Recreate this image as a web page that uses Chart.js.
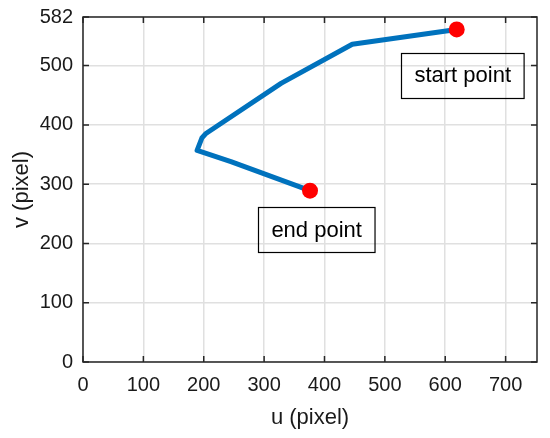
<!DOCTYPE html>
<html>
<head>
<meta charset="utf-8">
<script src="https://cdn.jsdelivr.net/npm/chart.js@4/dist/chart.umd.min.js"></script>
<style>
  html, body { margin: 0; padding: 0; background: #ffffff; }
  #wrap { width: 550px; height: 438px; position: relative; }
</style>
</head>
<body>
<div id="wrap"><canvas id="c" width="550" height="438"></canvas></div>
<script>
// ---- data ----
const uPath = [619, 446, 328, 203, 197, 189, 245, 376];
const vPath = [561, 536, 470, 385, 378, 357, 338, 289];
const startPoint = { u: 619, v: 561 };
const endPoint = { u: 376, v: 289 };
const xTicks = [0, 100, 200, 300, 400, 500, 600, 700];
const yTicks = [0, 100, 200, 300, 400, 500, 582];
const xMax = 752;
const yMax = 582;
const xLabel = 'u (pixel)';
const yLabel = 'v (pixel)';
const annotationLabels = ['start point', 'end point'];
const annotationAnchors = [{ u: 629, v: 484 }, { u: 387, v: 223 }];

const FONT = "'Liberation Sans', Arial, Helvetica, sans-serif";
const AXIS_COLOR = '#262626';

const pathData = uPath.map((u, i) => ({ x: u, y: vPath[i] }));

const frameTicksAnnot = {
  id: 'frameTicksAnnot',
  afterDatasetsDraw(chart) {
    const { ctx, chartArea: a, scales } = chart;
    const xs = scales.x, ys = scales.y;
    ctx.save();
    // inward ticks
    ctx.strokeStyle = AXIS_COLOR;
    ctx.lineWidth = 1.5;
    const tl = 6;
    ctx.beginPath();
    xTicks.forEach(t => {
      const px = xs.getPixelForValue(t);
      ctx.moveTo(px, a.bottom); ctx.lineTo(px, a.bottom - tl);
      ctx.moveTo(px, a.top); ctx.lineTo(px, a.top + tl);
    });
    yTicks.forEach(t => {
      const py = ys.getPixelForValue(t);
      ctx.moveTo(a.left, py); ctx.lineTo(a.left + tl, py);
      ctx.moveTo(a.right, py); ctx.lineTo(a.right - tl, py);
    });
    ctx.stroke();
    // frame
    ctx.strokeRect(a.left, a.top, a.right - a.left, a.bottom - a.top);
    // annotation text boxes
    ctx.font = '22px ' + FONT;
    ctx.fillStyle = '#000000';
    ctx.strokeStyle = '#000000';
    ctx.lineWidth = 1.2;
    ctx.textAlign = 'center';
    ctx.textBaseline = 'middle';
    annotationLabels.forEach((txt, i) => {
      const cx = xs.getPixelForValue(annotationAnchors[i].u);
      const cy = ys.getPixelForValue(annotationAnchors[i].v);
      const w = ctx.measureText(txt).width + 26;
      const h = 45;
      ctx.strokeRect(Math.round(cx - w / 2) + 0.5, Math.round(cy - h / 2) + 0.5, w, h);
      ctx.fillText(txt, cx, cy + 1);
    });
    ctx.restore();
  }
};

new Chart(document.getElementById('c'), {
  type: 'scatter',
  data: {
    datasets: [
      {
        label: 'start',
        data: [{ x: startPoint.u, y: startPoint.v }],
        pointRadius: 8,
        pointBackgroundColor: '#ff0000',
        pointBorderWidth: 0,
        order: 0
      },
      {
        label: 'end',
        data: [{ x: endPoint.u, y: endPoint.v }],
        pointRadius: 8,
        pointBackgroundColor: '#ff0000',
        pointBorderWidth: 0,
        order: 0
      },
      {
        label: 'trajectory',
        data: pathData,
        showLine: true,
        borderColor: '#0072BD',
        borderWidth: 5,
        pointRadius: 0,
        borderJoinStyle: 'round',
        borderCapStyle: 'round',
        tension: 0,
        order: 1
      }
    ]
  },
  options: {
    responsive: false,
    animation: false,
    devicePixelRatio: 1,
    layout: { padding: { left: 0, right: 13, top: 17, bottom: 0 } },
    plugins: { legend: { display: false }, tooltip: { enabled: false } },
    scales: {
      x: {
        type: 'linear',
        min: 0, max: xMax,
        afterBuildTicks(s) { s.ticks = xTicks.map(v => ({ value: v })); },
        afterFit(s) { s.height = 76; s.paddingLeft = 0; s.paddingRight = 0; },
        grid: { color: '#e0e0e0', lineWidth: 1.5, drawTicks: false },
        border: { display: false },
        ticks: { color: '#1a1a1a', font: { family: FONT, size: 20 }, padding: 11, maxRotation: 0, autoSkip: false },
        title: { display: true, text: xLabel, color: '#1a1a1a', font: { family: FONT, size: 22 }, padding: { top: 0, bottom: 7 } }
      },
      y: {
        type: 'linear',
        min: 0, max: yMax,
        afterBuildTicks(s) { s.ticks = yTicks.map(v => ({ value: v })); },
        afterFit(s) { s.width = 83; s.paddingTop = 0; s.paddingBottom = 0; },
        grid: { color: '#e0e0e0', lineWidth: 1.5, drawTicks: false },
        border: { display: false },
        ticks: { color: '#1a1a1a', font: { family: FONT, size: 20 }, padding: 10, autoSkip: false },
        title: { display: true, text: yLabel, color: '#1a1a1a', font: { family: FONT, size: 22 }, padding: { top: 9, bottom: 0 } }
      }
    }
  },
  plugins: [frameTicksAnnot]
});
</script>
</body>
</html>
